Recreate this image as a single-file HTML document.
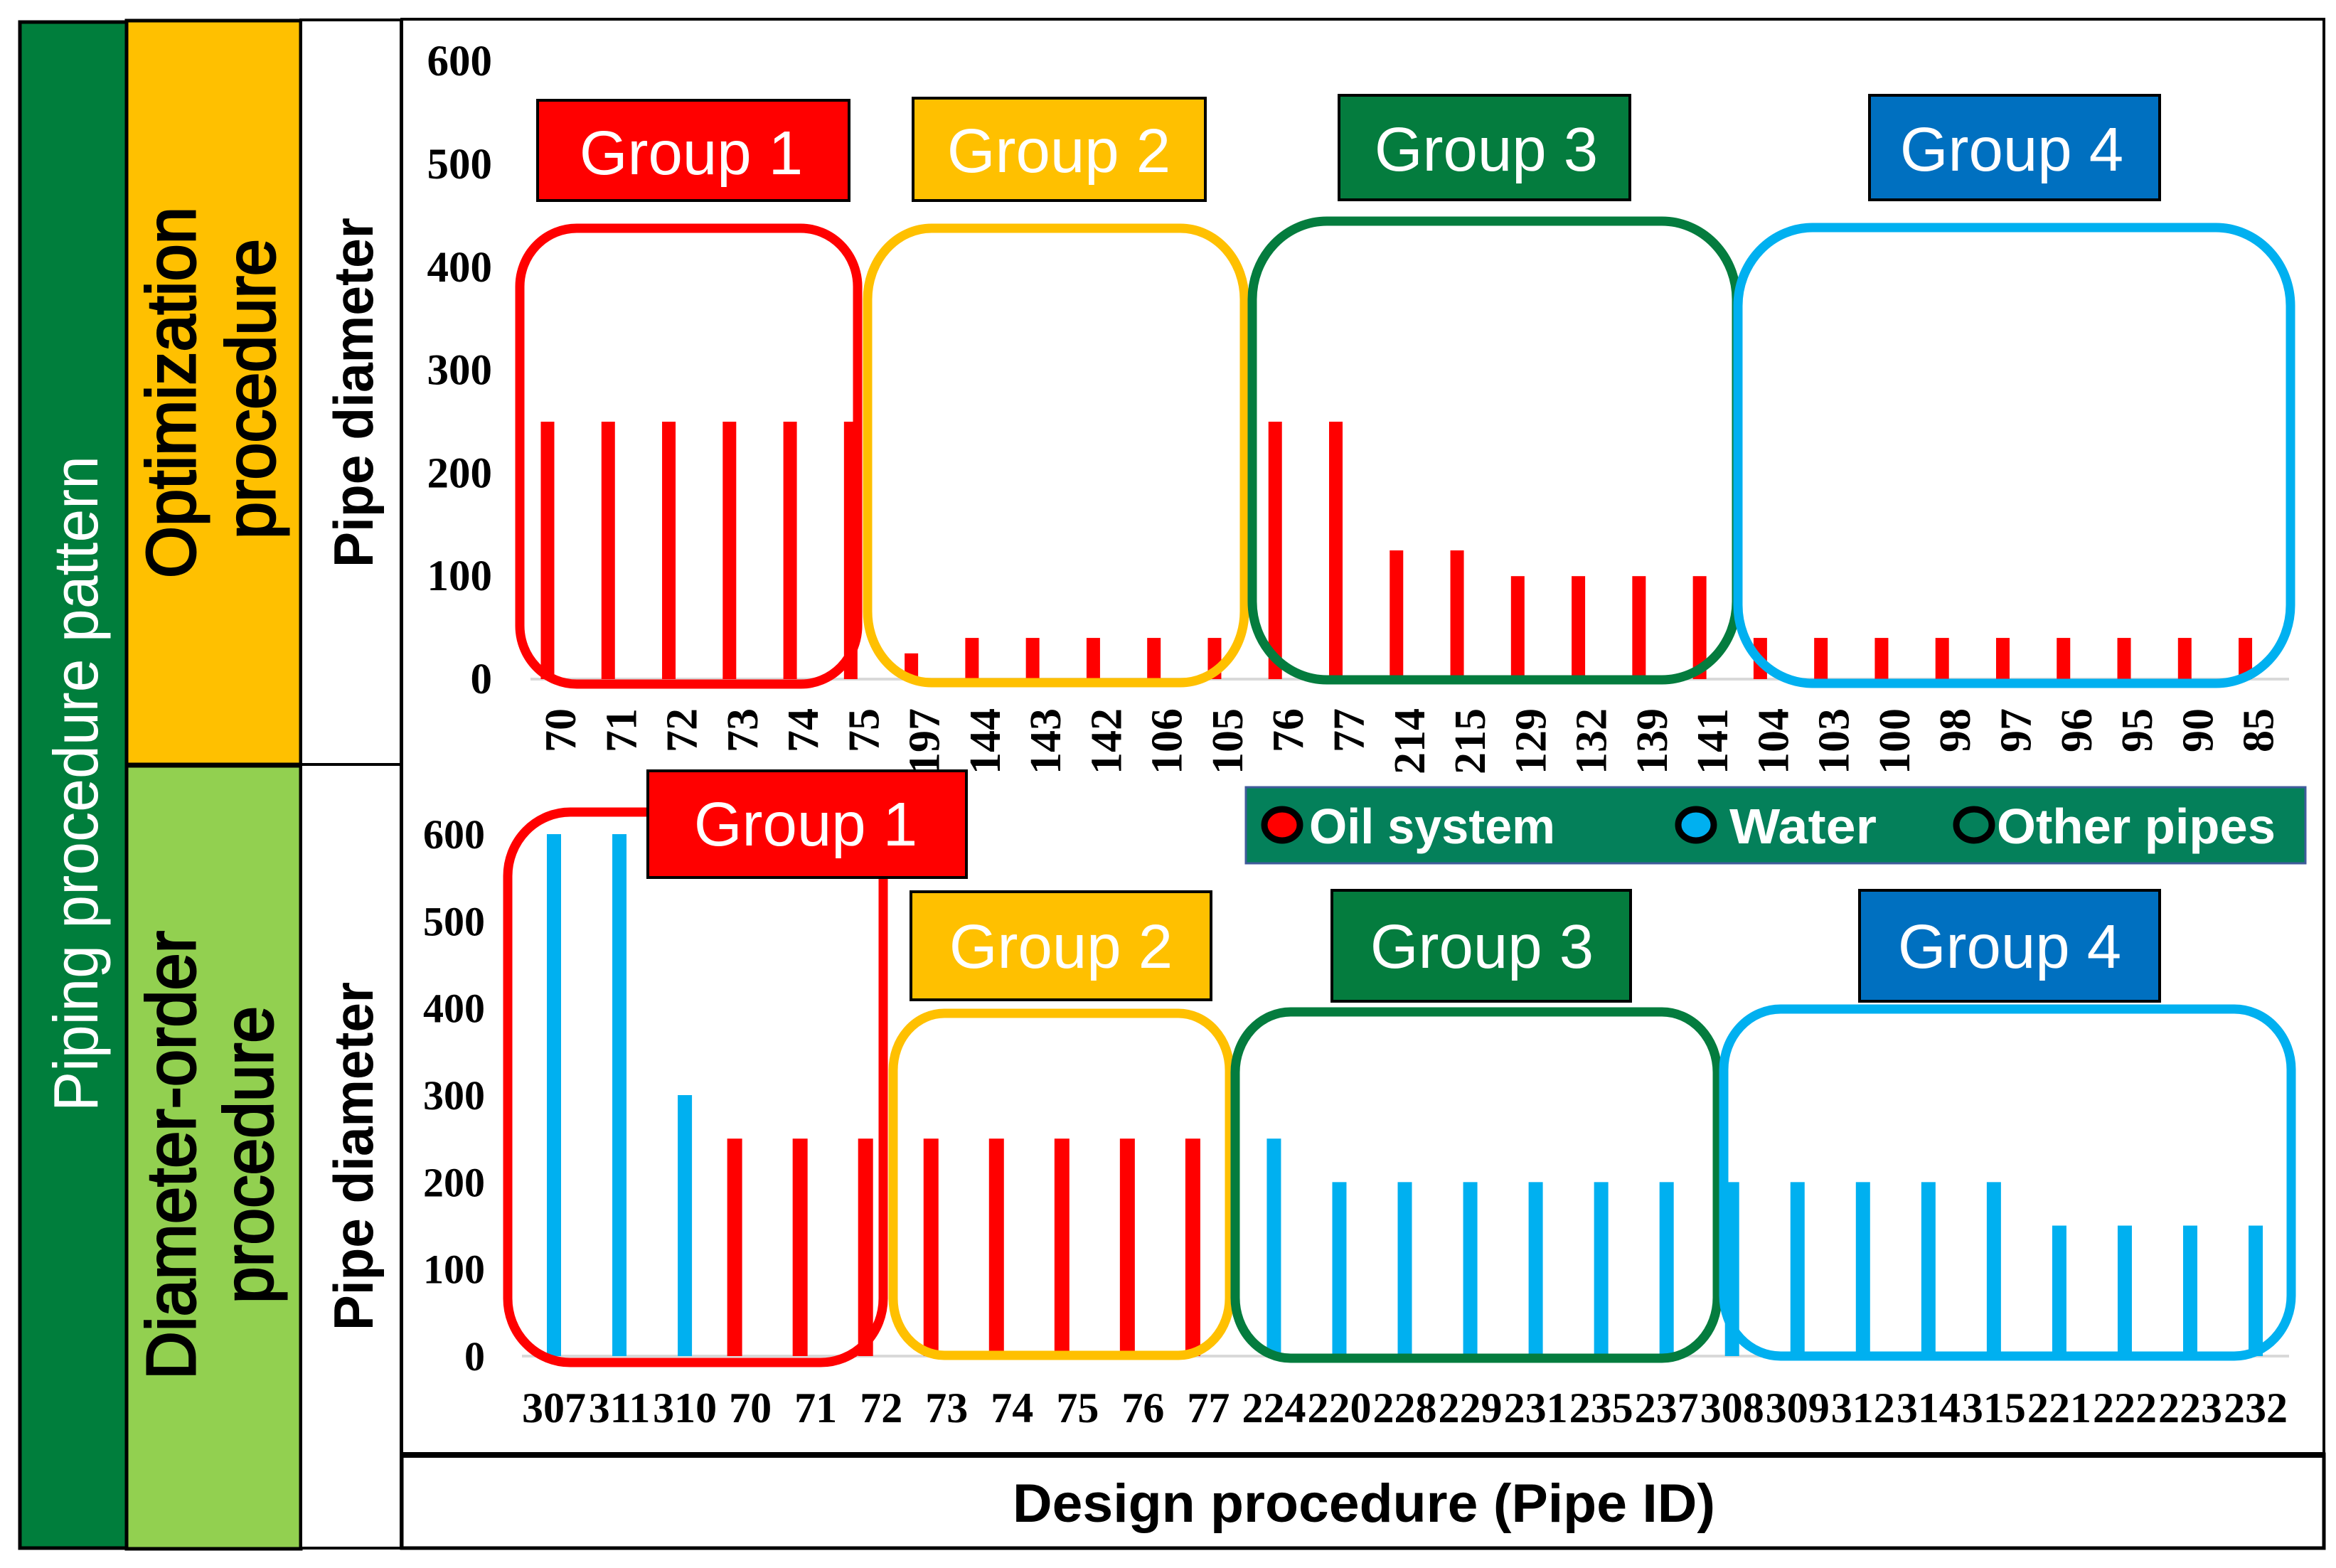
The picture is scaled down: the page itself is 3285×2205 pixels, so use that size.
<!DOCTYPE html>
<html lang="en">
<head>
<meta charset="utf-8">
<title>Piping procedure pattern chart</title>
<style>
html,body{margin:0;padding:0;background:#fff;width:3285px;height:2205px;overflow:hidden}
svg{display:block}
.tick{font-family:"Liberation Serif",serif;font-weight:bold;fill:#000}
.sans{font-family:"Liberation Sans",sans-serif}
</style>
</head>
<body>
<svg id="chart" xmlns="http://www.w3.org/2000/svg" width="3285" height="2205" viewBox="0 0 3285 2205">
  <rect x="0" y="0" width="3285" height="2205" fill="#ffffff"/>

  <rect x="28" y="31" width="150" height="2146" fill="#007e3c" stroke="#000" stroke-width="5"/>
  <rect x="178" y="29" width="245" height="1046" fill="#ffc000" stroke="#000" stroke-width="5"/>
  <rect x="178" y="1077" width="245" height="1101" fill="#92d050" stroke="#000" stroke-width="5"/>
  <rect x="423" y="28" width="141" height="2149" fill="#fff" stroke="#000" stroke-width="4"/>
  <line x1="423" y1="1075" x2="564" y2="1075" stroke="#000" stroke-width="4"/>
  <rect x="565" y="27" width="2703" height="2018" fill="#fff" stroke="#000" stroke-width="4"/>
  <rect x="565" y="2045" width="2703" height="132" fill="#fff" stroke="#000" stroke-width="5"/>
  <line x1="565" y1="2046" x2="3268" y2="2046" stroke="#000" stroke-width="8"/>

  <text class="sans" transform="translate(137 1563) rotate(-90)" font-size="88" fill="#fff" textLength="922" lengthAdjust="spacingAndGlyphs">Piping procedure pattern</text>
  <text class="sans" transform="translate(274 813) rotate(-90)" font-size="97" fill="#000" stroke="#000" stroke-width="3" textLength="522" lengthAdjust="spacingAndGlyphs">Optimization</text>
  <text class="sans" transform="translate(386 758) rotate(-90)" font-size="97" fill="#000" stroke="#000" stroke-width="3" textLength="422" lengthAdjust="spacingAndGlyphs">procedure</text>
  <text class="sans" transform="translate(274 1940) rotate(-90)" font-size="97" fill="#000" stroke="#000" stroke-width="3" textLength="631" lengthAdjust="spacingAndGlyphs">Diameter-order</text>
  <text class="sans" transform="translate(383 1833) rotate(-90)" font-size="97" fill="#000" stroke="#000" stroke-width="3" textLength="418" lengthAdjust="spacingAndGlyphs">procedure</text>
  <text class="sans" font-weight="bold" transform="translate(524 798) rotate(-90)" font-size="78" fill="#000" textLength="492" lengthAdjust="spacingAndGlyphs">Pipe diameter</text>
  <text class="sans" font-weight="bold" transform="translate(524 1871) rotate(-90)" font-size="78" fill="#000" textLength="490" lengthAdjust="spacingAndGlyphs">Pipe diameter</text>
  <text class="sans" font-weight="bold" x="1424" y="2140" font-size="76" fill="#000" textLength="988" lengthAdjust="spacingAndGlyphs">Design procedure (Pipe ID)</text>

  <g id="marks"></g>

  <g fill="none" stroke-width="13">
    <rect x="731" y="321" width="475" height="641" rx="80" ry="82" stroke="#ff0000"/>
    <rect x="1220" y="321" width="530" height="639" rx="90" ry="100" stroke="#ffc000"/>
    <rect x="1761" y="311" width="681" height="645" rx="105" ry="110" stroke="#047c3e"/>
    <rect x="2444" y="320" width="777" height="641" rx="105" ry="110" stroke="#00b0f0"/>
  </g>
  <g class="sans" font-size="87" fill="#fff" text-anchor="middle">
    <rect x="756" y="141" width="438" height="141" fill="#ff0000" stroke="#000" stroke-width="4"/>
    <text x="972" y="245">Group 1</text>
    <rect x="1284" y="138" width="411" height="144" fill="#ffc000" stroke="#000" stroke-width="4"/>
    <text x="1489" y="242">Group 2</text>
    <rect x="1883" y="134" width="409" height="147" fill="#047c3e" stroke="#000" stroke-width="4"/>
    <text x="2090" y="240">Group 3</text>
    <rect x="2629" y="134" width="408" height="147" fill="#0070c0" stroke="#000" stroke-width="4"/>
    <text x="2829" y="240">Group 4</text>
  </g>

  <g fill="none" stroke-width="13">
    <rect x="714" y="1142" width="528" height="774" rx="88" ry="90" stroke="#ff0000"/>
    <rect x="1256" y="1425" width="473" height="481" rx="72" ry="80" stroke="#ffc000"/>
    <rect x="1737" y="1423" width="678" height="487" rx="78" ry="85" stroke="#047c3e"/>
    <rect x="2424" y="1419" width="798" height="488" rx="80" ry="85" stroke="#00b0f0"/>
  </g>
  <g class="sans" font-size="87" fill="#fff" text-anchor="middle">
    <rect x="911" y="1084" width="448" height="150" fill="#ff0000" stroke="#000" stroke-width="4"/>
    <text x="1133" y="1189">Group 1</text>
    <rect x="1281" y="1254" width="422" height="152" fill="#ffc000" stroke="#000" stroke-width="4"/>
    <text x="1492" y="1361">Group 2</text>
    <rect x="1873" y="1252" width="420" height="156" fill="#047c3e" stroke="#000" stroke-width="4"/>
    <text x="2084" y="1361">Group 3</text>
    <rect x="2615" y="1252" width="422" height="156" fill="#0070c0" stroke="#000" stroke-width="4"/>
    <text x="2826" y="1361">Group 4</text>
  </g>

  <g>
    <rect x="1752" y="1107" width="1490" height="107" fill="#04805a" stroke="#3f5b9b" stroke-width="3"/>
    <ellipse cx="1803" cy="1160" rx="25" ry="22" fill="#ff0000" stroke="#000" stroke-width="9"/>
    <text class="sans" font-weight="bold" x="1841" y="1186" font-size="70" fill="#fff" textLength="346" lengthAdjust="spacingAndGlyphs">Oil system</text>
    <ellipse cx="2385" cy="1160" rx="25" ry="22" fill="#00b0f0" stroke="#000" stroke-width="9"/>
    <text class="sans" font-weight="bold" x="2432" y="1186" font-size="70" fill="#fff" textLength="207" lengthAdjust="spacingAndGlyphs">Water</text>
    <ellipse cx="2776" cy="1160" rx="25" ry="22" fill="#04805a" stroke="#000" stroke-width="9"/>
    <text class="sans" font-weight="bold" x="2808" y="1186" font-size="70" fill="#fff" textLength="392" lengthAdjust="spacingAndGlyphs">Other pipes</text>
  </g>
</svg>
<script>
const topCategories = ['70','71','72','73','74','75','197','144','143','142','106','105','76','77','214','215','129','132','139','141','104','103','100','98','97','96','95','90','85'];
const topOilValues = [250,250,250,250,250,250,25,40,40,40,40,40,250,250,125,125,100,100,100,100,40,40,40,40,40,40,40,40,40];
const bottomCategories = ['307','311','310','70','71','72','73','74','75','76','77','224','220','228','229','231','235','237','308','309','312','314','315','221','222','223','232'];
const bottomOilValues = [null,null,null,250,250,250,250,250,250,250,250,null,null,null,null,null,null,null,null,null,null,null,null,null,null,null,null];
const bottomWaterValues = [600,600,300,null,null,null,null,null,null,null,null,250,200,200,200,200,200,200,200,200,200,200,200,150,150,150,150];
const yTickLabels = [0,100,200,300,400,500,600];

const SVG_NS = 'http://www.w3.org/2000/svg';
const marks = document.getElementById('marks');

function xTop(i) { return 792 + i * 85.27; }
function yTop(v) { return 955 - v * 1.448; }
function xBottom(i) { return 779 + i * 92.04; }
function yBottom(v) { return 1907 - v * 1.2233; }

function make(tag, attrs, parent) {
  const el = document.createElementNS(SVG_NS, tag);
  for (const k in attrs) el.setAttribute(k, attrs[k]);
  parent.appendChild(el);
  return el;
}

function drawAxisLine(x1, x2, y, name) {
  const line = make('line', { x1: x1, x2: x2, y1: y, y2: y, stroke: '#d9d9d9', 'stroke-width': 4 }, marks);
  
  
}

function drawBar(cx, value, yFn, width, color, name) {
  const rect = make('rect', { x: cx - width / 2, y: yFn(value), width: width, height: yFn(0) - yFn(value), fill: color }, marks);
  
  
}

function drawYTicks(yFn, size, right, name) {
  yTickLabels.forEach(function (t) {
    const text = make('text', { x: right, y: yFn(t) + 20, 'font-size': size, 'text-anchor': 'end', class: 'tick' }, marks);
    
    
    text.textContent = t;
  });
}

drawAxisLine(746, 3219, yTop(0), 'top-x-axis-line');
drawAxisLine(734, 3219, yBottom(0), 'bottom-x-axis-line');
drawYTicks(yTop, 61, 692, 'top-y-tick-label');
drawYTicks(yBottom, 58, 682, 'bottom-y-tick-label');

topCategories.forEach(function (c, i) {
  drawBar(xTop(i) - 22, topOilValues[i], yTop, 19, '#ff0000', 'top-oil-bar-' + c);
  const label = make('text', { transform: 'translate(' + (xTop(i) + 17) + ' 996) rotate(-90)', 'font-size': 62, 'text-anchor': 'end', class: 'tick' }, marks);
  
  
  label.textContent = c;
});

bottomCategories.forEach(function (c, i) {
  if (bottomOilValues[i] !== null) drawBar(xBottom(i) - 22, bottomOilValues[i], yBottom, 21, '#ff0000', 'bottom-oil-bar-' + c);
  if (bottomWaterValues[i] !== null) drawBar(xBottom(i), bottomWaterValues[i], yBottom, 20, '#00b0f0', 'bottom-water-bar-' + c);
  const label = make('text', { x: xBottom(i), y: 2000, 'font-size': 60, 'text-anchor': 'middle', class: 'tick' }, marks);
  
  
  label.textContent = c;
});
</script>
</body>
</html>
